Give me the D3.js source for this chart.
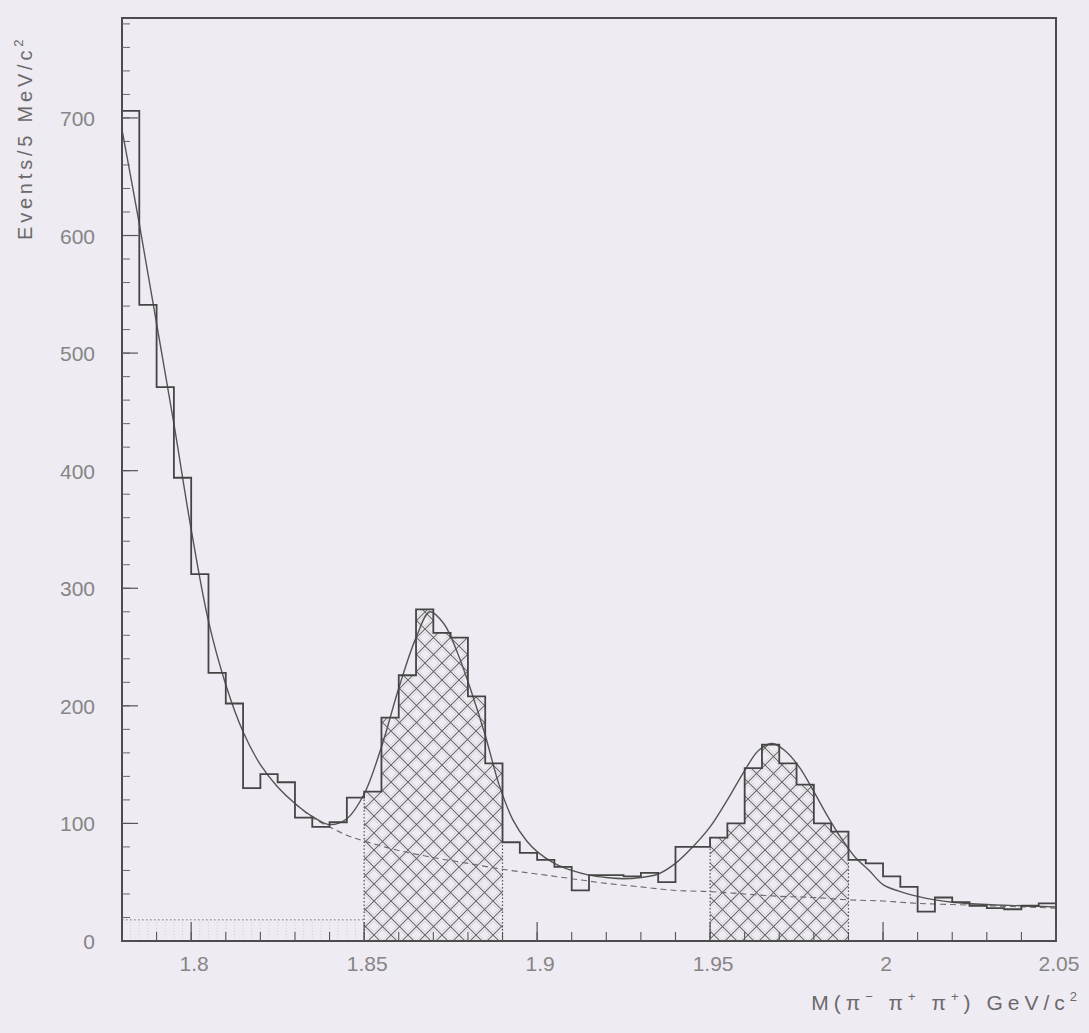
<!DOCTYPE html>
<html>
<head>
<meta charset="utf-8">
<script src="https://cdn.jsdelivr.net/npm/d3@7"></script>
<style>
  html, body { margin: 0; padding: 0; background: #efebf2; }
  svg { display: block; }
</style>
</head>
<body>
<svg id="chart" width="1089" height="1033"></svg>
<script>
// Invariant mass histogram, 5 MeV bins starting at 1.78 GeV/c^2
const binStart = 1.78;
const binWidth = 0.005;
const counts = [
  706, 541, 471, 394, 312, 228, 202, 130, 142, 135,
  105,  97, 101, 122, 127, 190, 226, 282, 262, 258,
  208, 151,  84,  75,  69,  63,  43,  56,  56,  55,
   58,  50,  80,  80,  88, 100, 147, 167, 151, 133,
  100,  93,  69,  66,  55,  46,  25,  37,  33,  30,
   28,  27,  30,  32
];

// Signal windows that are shaded with cross-hatching
const windowLow  = [1.85, 1.95];
const windowHigh = [1.89, 1.99];

// Fitted curve (signal + background)
const fitMass = [
  1.78, 1.785, 1.79, 1.795, 1.80, 1.805, 1.81, 1.815, 1.82, 1.825,
  1.83, 1.835, 1.84, 1.845, 1.85, 1.855, 1.86, 1.865, 1.869, 1.873,
  1.877, 1.881, 1.885, 1.889, 1.893, 1.897, 1.90, 1.905, 1.91, 1.915,
  1.92, 1.925, 1.93, 1.935, 1.94, 1.945, 1.95, 1.955, 1.96, 1.964,
  1.968, 1.972, 1.976, 1.98, 1.984, 1.988, 1.992, 1.996, 2.0, 2.005,
  2.01, 2.015, 2.02, 2.03, 2.04, 2.05
];
const fitValue = [
  690, 610, 525, 440, 350, 272, 218, 178, 150, 131,
  117, 106,  99, 104, 125, 165, 215, 258, 280, 270,
  245, 212, 175, 133, 103,  85,  76,  66,  60,  56,
   54,  53,  54,  57,  66,  80,  97, 120, 145, 162,
  168, 161, 147, 127, 106,  87,  71,  60,  48,  42,
   38,  35,  33,  31,  30,  29
];

// Background component of the fit (dashed)
const bgMass = [
  1.83, 1.835, 1.84, 1.845, 1.85, 1.86, 1.87, 1.88, 1.89, 1.90,
  1.91, 1.92, 1.93, 1.94, 1.95, 1.96, 1.97, 1.98, 1.99, 2.00,
  2.01, 2.02, 2.03, 2.04, 2.05
];
const bgValue = [
  117, 105, 97, 90, 85, 77, 71, 66, 61, 57,
   53,  49, 46, 43, 42, 40, 38, 37, 35, 34,
   32,  31, 30, 29, 28
];

// Low-level dotted band at the left of the spectrum
const lowBandMass = [1.78, 1.85];
const lowBandValue = 18;

// Axis ticks
const xMajorTicks = [1.8, 1.85, 1.9, 1.95, 2.0, 2.05];
const xTickLabels = ["1.8", "1.85", "1.9", "1.95", "2", "2.05"];
const yMajorTicks = [0, 100, 200, 300, 400, 500, 600, 700];
const yTickLabels = ["0", "100", "200", "300", "400", "500", "600", "700"];

const svg = d3.select("#chart");

const x = d3.scaleLinear().domain([1.78, 2.05]).range([122, 1056]);
const y = d3.scaleLinear().domain([0, 785]).range([941, 18]);

const ink = "#454545";
const labelGrey = "#858585";
const font = "Liberation Sans, Arial, sans-serif";

// Cross-hatch pattern
const defs = svg.append("defs");
const pat = defs.append("pattern")
  .attr("id", "xhatch")
  .attr("patternUnits", "userSpaceOnUse")
  .attr("width", 17).attr("height", 17);
pat.append("path")
  .attr("d", "M0,0L17,17M-17,0L0,17M17,0L34,17M0,17L17,0M-17,17L0,0M17,17L34,0")
  .attr("stroke", "#6a6a6a").attr("stroke-width", 1.1).attr("fill", "none");
pat.append("path")
  .attr("d", "M0,3L14,17M3,0L17,14M0,14L14,0M3,17L17,3")
  .attr("stroke", "#c6c2ca").attr("stroke-width", 0.6).attr("fill", "none");

// Bins as objects
const bins = counts.map((c, i) => ({
  lo: binStart + i * binWidth,
  hi: binStart + (i + 1) * binWidth,
  c: c
}));

// Faint vertical dotted grid inside the low-level band
const lowBand = svg.append("g").attr("opacity", 0.45);
d3.range(lowBandMass[0] + 0.0025, lowBandMass[1], 0.0025).forEach(m => {
  lowBand.append("line")
    .attr("x1", x(m)).attr("x2", x(m))
    .attr("y1", y(0)).attr("y2", y(lowBandValue))
    .attr("stroke", "#999").attr("stroke-width", 0.8)
    .attr("stroke-dasharray", "1,2");
});
svg.append("line")
  .attr("x1", x(lowBandMass[0])).attr("x2", x(lowBandMass[1]))
  .attr("y1", y(lowBandValue)).attr("y2", y(lowBandValue))
  .attr("stroke", "#777").attr("stroke-width", 1)
  .attr("stroke-dasharray", "1.5,2.5");

// Hatched signal windows (filled under the histogram)
windowLow.forEach((lo, k) => {
  const hi = windowHigh[k];
  const inside = bins.filter(b => b.lo >= lo - 1e-9 && b.hi <= hi + 1e-9);
  let d = `M${x(lo)},${y(0)}`;
  inside.forEach(b => { d += `L${x(b.lo)},${y(b.c)}L${x(b.hi)},${y(b.c)}`; });
  d += `L${x(hi)},${y(0)}Z`;
  svg.append("path").attr("d", d).attr("fill", "url(#xhatch)").attr("stroke", "none");
  // dotted window edges
  [lo, hi].forEach(edge => {
    const b = inside.find(bb => Math.abs(bb.lo - edge) < 1e-9) || inside.find(bb => Math.abs(bb.hi - edge) < 1e-9);
    svg.append("line")
      .attr("x1", x(edge)).attr("x2", x(edge))
      .attr("y1", y(0)).attr("y2", y(b.c))
      .attr("stroke", "#555").attr("stroke-width", 1.2)
      .attr("stroke-dasharray", "1.5,2");
  });
});

// Background curve (dashed)
const line = d3.line().curve(d3.curveCatmullRom.alpha(0.5));
svg.append("path")
  .attr("d", line(bgMass.map((m, i) => [x(m), y(bgValue[i])])))
  .attr("fill", "none").attr("stroke", "#6a6a6a").attr("stroke-width", 1.1)
  .attr("stroke-dasharray", "6,4");

// Fit curve
svg.append("path")
  .attr("d", line(fitMass.map((m, i) => [x(m), y(fitValue[i])])))
  .attr("fill", "none").attr("stroke", "#555").attr("stroke-width", 1.4);

// Histogram outline
let hd = "";
bins.forEach((b, i) => {
  hd += (i === 0 ? "M" : "L") + `${x(b.lo)},${y(b.c)}L${x(b.hi)},${y(b.c)}`;
});
svg.append("path").attr("d", hd)
  .attr("fill", "none").attr("stroke", ink).attr("stroke-width", 1.8)
  .attr("stroke-linejoin", "miter");

// Frame
svg.append("rect")
  .attr("x", x(1.78)).attr("y", y(785))
  .attr("width", x(2.05) - x(1.78)).attr("height", y(0) - y(785))
  .attr("fill", "none").attr("stroke", "#4c4c4c").attr("stroke-width", 2);

// X ticks (inward, pointing up)
const xMinor = d3.range(1.79, 2.0501, 0.01);
xMinor.forEach(t => {
  svg.append("line").attr("x1", x(t)).attr("x2", x(t))
    .attr("y1", y(0)).attr("y2", y(0) - 9)
    .attr("stroke", "#555").attr("stroke-width", 1.1);
});
xMajorTicks.forEach(t => {
  svg.append("line").attr("x1", x(t)).attr("x2", x(t))
    .attr("y1", y(0)).attr("y2", y(0) - 19)
    .attr("stroke", "#555").attr("stroke-width", 1.2);
});
svg.append("g").selectAll("text").data(xMajorTicks).join("text")
  .attr("x", d => x(d) + 3).attr("y", 971)
  .attr("text-anchor", "middle")
  .attr("font-family", font)
  .attr("font-size", 21).attr("fill", labelGrey)
  .text((d, i) => xTickLabels[i]);

// Y ticks (inward, pointing right)
const yMinor = d3.range(20, 781, 20);
yMinor.forEach(t => {
  svg.append("line").attr("x1", x(1.78)).attr("x2", x(1.78) + 8)
    .attr("y1", y(t)).attr("y2", y(t))
    .attr("stroke", "#666").attr("stroke-width", 1);
});
yMajorTicks.forEach(t => {
  svg.append("line").attr("x1", x(1.78)).attr("x2", x(1.78) + 16)
    .attr("y1", y(t)).attr("y2", y(t))
    .attr("stroke", "#555").attr("stroke-width", 1.2);
});
svg.append("g").selectAll("text").data(yMajorTicks).join("text")
  .attr("x", 95).attr("y", d => y(d) + 8)
  .attr("text-anchor", "end")
  .attr("font-family", font)
  .attr("font-size", 21).attr("fill", labelGrey)
  .text((d, i) => yTickLabels[i]);

// Axis titles
const yTitle = svg.append("text")
  .attr("transform", "translate(32,240) rotate(-90)")
  .attr("font-family", font)
  .attr("font-size", 20).attr("fill", "#6a6a6a")
  .attr("letter-spacing", 3.8);
yTitle.append("tspan").text("Events/5 MeV/c");
yTitle.append("tspan").attr("dy", -9).attr("font-size", 13).text("2");

const xTitle = svg.append("text")
  .attr("x", 1082).attr("y", 1010)
  .attr("text-anchor", "end")
  .attr("font-family", font)
  .attr("font-size", 21).attr("fill", "#6a6a6a")
  .attr("letter-spacing", 5);
xTitle.append("tspan").text("M(π");
xTitle.append("tspan").attr("dy", -9).attr("font-size", 13).text("−");
xTitle.append("tspan").attr("dy", 9).text(" π");
xTitle.append("tspan").attr("dy", -9).attr("font-size", 13).text("+");
xTitle.append("tspan").attr("dy", 9).text(" π");
xTitle.append("tspan").attr("dy", -9).attr("font-size", 13).text("+");
xTitle.append("tspan").attr("dy", 9).text(") GeV/c");
xTitle.append("tspan").attr("dy", -9).attr("font-size", 13).text("2");
</script>
</body>
</html>
